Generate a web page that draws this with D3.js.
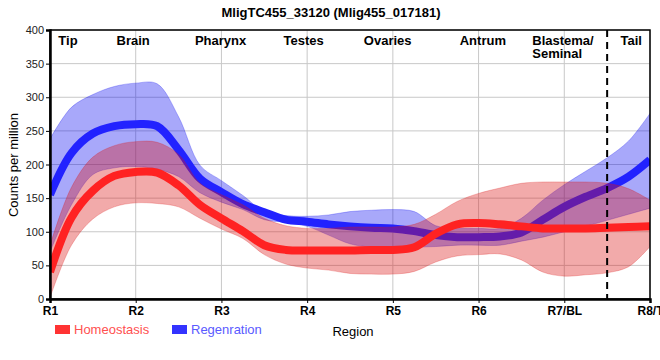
<!DOCTYPE html>
<html><head><meta charset="utf-8">
<script src="https://cdn.jsdelivr.net/npm/d3@7"></script>
<style>
html,body{margin:0;padding:0;background:#fff;}
svg{display:block;font-family:"Liberation Sans",Arial,sans-serif;}
</style></head>
<body><svg id="c" width="660" height="360"></svg>
<script>
// ---- data ----
const titleText = "MligTC455_33120 (Mlig455_017181)";
const tickLabels = ["R1","R2","R3","R4","R5","R6","R7/BL","R8/T"];
const yTicks = [0,50,100,150,200,250,300,350,400];
const regionNames = ["Tip","Brain","Pharynx","Testes","Ovaries","Antrum","Blastema/|Seminal","Tail"];
const regionPos = [1.21,1.97,2.99,3.96,4.94,6.05,7.0,7.78];
const dividerPos = 7.5;
const xs = [1,1.25,1.5,1.75,2,2.25,2.5,2.75,3,3.25,3.5,3.75,4,4.25,4.5,4.75,5,5.25,5.5,5.75,6,6.25,6.5,6.75,7,7.25,7.5,7.75,8];
const homeoMean  = [40,121,161,183,189,188,169,140,120,101,80,73,72,72,72,73,73,77,97,111,113,111,108,105,105,105,106,107,108];
const homeoUpper = [80,166,211,228,234,233,215,172,155,140,120,109,105,105,107,107,107,111,126,145,157,165,172,174,174,174,172,164,147];
const homeoLower = [2,80,119,137,143,142,137,120,104,90,66,52,46,43,38,37,37,41,55,64,66,67,58,40,34,36,39,48,78];
const regenMean  = [155,217,246,257,260,257,222,179,159,141,129,118,115,111,108,106,105,101,95,92,92,93,99,118,137,152,165,182,207];
const regenUpper = [238,285,304,316,321,320,271,199,176,154,130,124,123,125,130,132,133,130,109,105,105,105,120,147,170,190,210,235,276];
const regenLower = [70,140,185,195,197,193,182,158,144,133,118,114,108,95,82,77,75,77,78,80,80,80,86,92,100,108,117,126,135];
const seriesNames = ["Homeostasis","Regenration"];

// ---- layout ----
const svg = d3.select("#c");
const L=50,R=650,T=30,B=299;
const x = d3.scaleLinear().domain([1,8]).range([L,R]);
const y = d3.scaleLinear().domain([0,400]).range([B,T]);
const curve = d3.curveCatmullRom.alpha(0.5);

svg.append("text").attr("x",331).attr("y",17).attr("text-anchor","middle")
  .attr("font-weight","bold").attr("font-size",13).text(titleText);

// grid
const g = svg.append("g");
g.selectAll(".hg").data(yTicks).enter().append("line")
  .attr("x1",L).attr("x2",R).attr("y1",d=>y(d)).attr("y2",d=>y(d))
  .attr("stroke","#c8c8c8").attr("stroke-width",1);
g.selectAll(".vg").data(tickLabels).enter().append("line")
  .attr("x1",(d,i)=>x(i+1)).attr("x2",(d,i)=>x(i+1)).attr("y1",T).attr("y2",B)
  .attr("stroke","#c8c8c8").attr("stroke-width",1);

svg.append("clipPath").attr("id","clip").append("rect").attr("x",L).attr("y",T).attr("width",R-L).attr("height",B-T);
const p = svg.append("g").attr("clip-path","url(#clip)");

function band(up,lo){
  return d3.area().x((d,i)=>x(xs[i])).y0((d,i)=>y(lo[i])).y1((d,i)=>y(up[i])).curve(curve)(xs);
}
function line(m){
  return d3.line().x((d,i)=>x(xs[i])).y((d,i)=>y(m[i])).curve(curve)(xs);
}
p.append("path").attr("d",band(regenUpper,regenLower)).attr("fill","rgba(0,0,240,0.34)")
  .attr("stroke","rgba(0,0,240,0.25)").attr("stroke-width",1);
p.append("path").attr("d",line(regenMean)).attr("fill","none").attr("stroke","#2222ff").attr("stroke-width",8);
p.append("path").attr("d",band(homeoUpper,homeoLower)).attr("fill","rgba(220,20,20,0.36)")
  .attr("stroke","rgba(220,20,20,0.25)").attr("stroke-width",1);
p.append("path").attr("d",line(homeoMean)).attr("fill","none").attr("stroke","#ff2222").attr("stroke-width",8);

// divider
svg.append("line").attr("x1",x(dividerPos)).attr("x2",x(dividerPos)).attr("y1",T).attr("y2",B)
  .attr("stroke","#000").attr("stroke-width",2).attr("stroke-dasharray","7,5");

// frame
svg.append("rect").attr("x",L).attr("y",T).attr("width",R-L).attr("height",B-T)
  .attr("fill","none").attr("stroke","#000").attr("stroke-width",1.5);

// axes
const ya = svg.append("g").attr("transform",`translate(${L},0)`)
  .call(d3.axisLeft(y).tickValues(yTicks).tickSize(4).tickPadding(2));
ya.select(".domain").attr("stroke-width",2.5);
ya.selectAll("text").attr("font-size",11).attr("fill","#222").attr("font-family","Liberation Sans, Arial, sans-serif");
const xa = svg.append("g").attr("transform",`translate(0,${B})`)
  .call(d3.axisBottom(x).tickValues([1,2,3,4,5,6,7,8]).tickFormat((d,i)=>tickLabels[i]).tickSize(4).tickPadding(3));
xa.select(".domain").attr("stroke-width",2.5);
xa.selectAll("text").attr("font-size",12).attr("font-weight","bold").attr("fill","#000").attr("font-family","Liberation Sans, Arial, sans-serif");

// region labels
regionNames.forEach((n,i)=>{
  const parts=n.split("|");
  const t=svg.append("text").attr("font-size",13).attr("font-weight","bold")
    .attr("text-anchor",parts.length>1?"start":"middle")
    .attr("x",parts.length>1?x(regionPos[i])-32:x(regionPos[i])).attr("y",45);
  parts.forEach((s,j)=>t.append("tspan").attr("x",parts.length>1?x(regionPos[i])-32:x(regionPos[i])).attr("dy",j?13:0).text(s));
});

// y title
svg.append("text").attr("transform","translate(18,165) rotate(-90)").attr("text-anchor","middle")
  .attr("font-size",13).text("Counts per million");

// legend
const lc=[["#ff3333","#ff5050"],["#3333ff","#5a5aff"]];
const lx=[55,172];
seriesNames.forEach((n,i)=>{
  svg.append("rect").attr("x",lx[i]).attr("y",325).attr("width",15).attr("height",9).attr("fill",lc[i][0]);
  svg.append("text").attr("x",lx[i]+19).attr("y",334).attr("font-size",13).attr("fill",lc[i][1]).text(n);
});
svg.append("text").attr("x",353).attr("y",336).attr("text-anchor","middle").attr("font-size",13).text("Region");
</script></body></html>
